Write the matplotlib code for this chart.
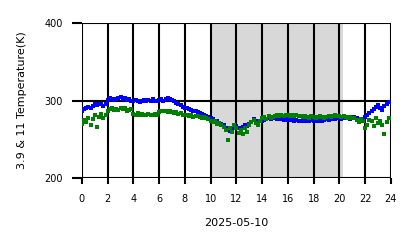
import numpy as np
import matplotlib
matplotlib.use("Agg")
import matplotlib.pyplot as plt

# 10-minute samples over the day (hours)
blue_39 = [
    286, 289, 291, 292, 290, 293,
    295, 294, 296, 295, 293, 296,
    301, 303, 302, 301, 302, 303,
    304, 302, 303, 301, 302, 300,
    299, 301, 300, 298, 300, 301,
    299, 301, 300, 302, 300, 299,
    301, 302, 300, 302, 303, 302,
    301, 299, 297, 296, 294, 292,
    291, 290, 289, 288, 287, 286,
    285, 284, 283, 282, 280, 279,
    278, 276, 274, 273, 271, 270,
    268, 265, 262, 261, 264, 266,
    267, 265, 263, 266, 268, 267,
    270, 272, 276, 274, 272, 273,
    274, 275, 276, 277, 276, 277,
    277, 276, 277, 276, 275, 276,
    275, 276, 275, 274, 275, 274,
    274, 275, 274, 273, 274, 275,
    274, 273, 274, 275, 274, 275,
    276, 275, 276, 277, 276, 277,
    277, 276, 277, 278, 277, 276,
    278, 279, 277, 275, 274, 276,
    279, 281, 284, 287, 289, 292,
    294, 290, 288, 293, 296, 298,
]
green_11 = [
    270, 275, 272, 278, 269, 276,
    282, 266, 279, 283, 277, 281,
    286, 289, 290, 288, 289, 288,
    290, 289, 290, 287, 288, 289,
    283, 281, 284, 282, 283, 281,
    282, 283, 281, 282, 283, 282,
    285, 286, 287, 286, 285, 286,
    285, 284, 285, 283, 284, 282,
    281, 282, 280, 281, 279, 280,
    280, 279, 278, 279, 277, 276,
    274, 272, 273, 270, 271, 268,
    266, 262, 249, 264, 260, 268,
    265, 258, 262, 257, 264, 260,
    268, 272, 275, 271, 269, 274,
    277, 279, 276, 280, 278, 279,
    280, 281, 280, 281, 280, 281,
    281, 280, 281, 280, 281, 280,
    280, 279, 280, 279, 278, 280,
    279, 278, 279, 280, 279, 278,
    279, 280, 279, 280, 281, 280,
    280, 279, 280, 279, 278, 279,
    278, 277, 275, 272, 276, 274,
    264, 268, 275, 273, 267, 278,
    271, 274, 269, 257, 272, 277,
]
hours = np.arange(len(blue_39)) / 6.0
night_start, night_end = 10.08, 20.3
xticks = list(range(0, 25, 2))
yticks = [200, 300, 400]

fig = plt.figure(figsize=(4.18, 2.48), dpi=100)
ax = fig.add_axes([0.196, 0.282, 0.739, 0.625])
ax.axvspan(night_start, night_end, color="#d8d8d8", zorder=0, lw=0)
ax.plot(hours, blue_39, "s", color="blue", ms=2.8, mew=0, zorder=3)
ax.plot(hours, green_11, "s", color="green", ms=2.8, mew=0, zorder=4)

ax.set_xlim(0, 24)
ax.set_ylim(200, 400)
ax.set_xticks(xticks)
ax.set_yticks(yticks)
ax.grid(True, color="black", lw=1.5, zorder=2)
for gl in ax.get_xgridlines() + ax.get_ygridlines():
    gl.set_zorder(2)
for s in ax.spines.values():
    s.set_visible(False)
ax.tick_params(axis="y", length=7, width=1.5, pad=7, labelsize=7)
ax.tick_params(axis="x", length=4.5, width=1.5, pad=7, labelsize=7)
ax.set_ylabel("3.9 & 11 Temperature(K)", fontsize=8, labelpad=12)
ax.set_xlabel("2025-05-10", fontsize=8, labelpad=10)
fig.savefig("out.png", dpi=100)
